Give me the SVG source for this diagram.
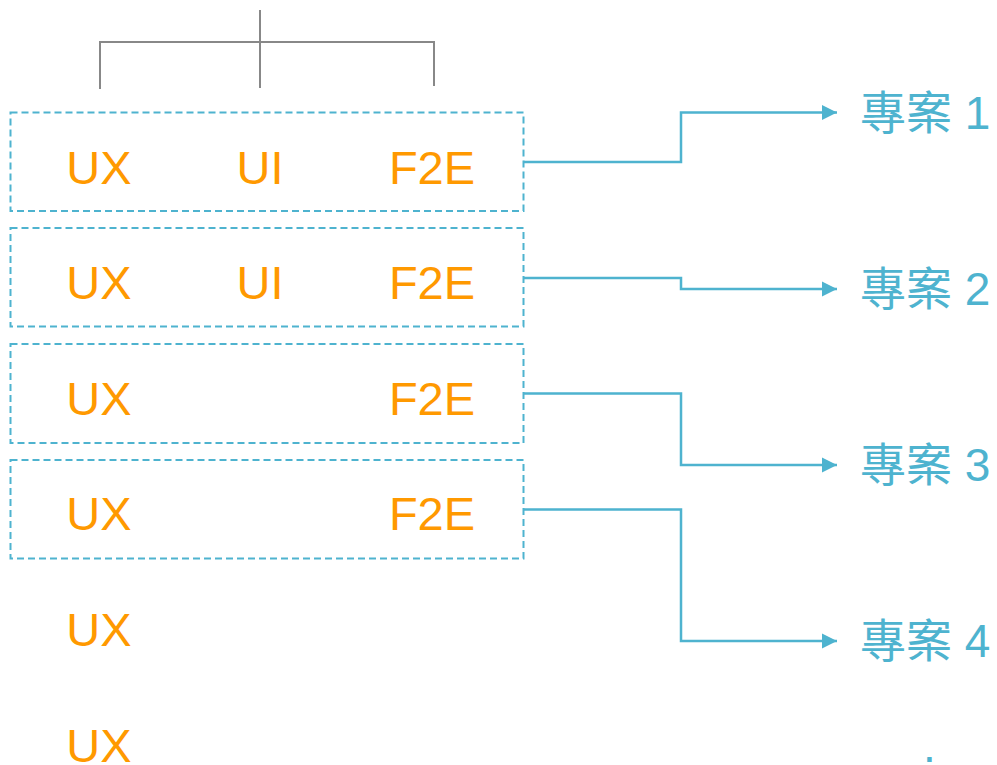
<svg xmlns="http://www.w3.org/2000/svg" width="997" height="765" viewBox="0 0 997 765">
<style>
.t{font-family:"Liberation Sans",Arial,sans-serif;font-size:47px;fill:#ff9900;text-anchor:middle}
.p{font-family:"Liberation Sans","Noto Sans CJK TC",sans-serif;font-size:46px;fill:#4eb3cf}
.box{fill:none;stroke:#4eb3cf;stroke-width:2;stroke-dasharray:7 4}
.c{fill:none;stroke:#4eb3cf;stroke-width:2.5}
.br{fill:none;stroke:#888;stroke-width:2}
</style>
<defs>
<marker id="ah" markerUnits="userSpaceOnUse" markerWidth="16" markerHeight="16" refX="15" refY="8" orient="auto">
<path d="M0,0.5 L15,8 L0,15.5 Z" fill="#4eb3cf"/>
</marker>
</defs>
<g id="bracket">
<path class="br" d="M260,10 V88 M100,89 V42 H434 V86"/>
</g>
<g id="group1">
<rect class="box" x="10.5" y="112.5" width="513" height="98.5"/>
<text class="t" x="99" y="184">UX</text>
<text class="t" x="260" y="184">UI</text>
<text class="t" x="432" y="184">F2E</text>
</g>
<g id="group2">
<rect class="box" x="10.5" y="228" width="513" height="98.5"/>
<text class="t" x="99" y="299">UX</text>
<text class="t" x="260" y="299">UI</text>
<text class="t" x="432" y="299">F2E</text>
</g>
<g id="group3">
<rect class="box" x="10.5" y="344" width="513" height="99"/>
<text class="t" x="99" y="415">UX</text>
<text class="t" x="432" y="415">F2E</text>
</g>
<g id="group4">
<rect class="box" x="10.5" y="460" width="513" height="98.5"/>
<text class="t" x="99" y="530">UX</text>
<text class="t" x="432" y="530">F2E</text>
</g>
<g id="ux5"><text class="t" x="99" y="646">UX</text></g>
<g id="ux6"><text class="t" x="99" y="762">UX</text></g>
<g id="connectors">
<path class="c" d="M523.5,162 H681 V112.5 H837" marker-end="url(#ah)"/>
<path class="c" d="M523.5,278 H681 V289 H837" marker-end="url(#ah)"/>
<path class="c" d="M523.5,393.5 H681 V465 H837" marker-end="url(#ah)"/>
<path class="c" d="M523.5,509.5 H681 V641 H837" marker-end="url(#ah)"/>
</g>
<g id="project1"><text class="p" x="860" y="129">專案 1</text></g>
<g id="project2"><text class="p" x="860" y="305">專案 2</text></g>
<g id="project3"><text class="p" x="860" y="481">專案 3</text></g>
<g id="project4"><text class="p" x="860" y="657">專案 4</text></g>
<g id="more"><text class="p" x="923" y="762">.</text></g>
</svg>
